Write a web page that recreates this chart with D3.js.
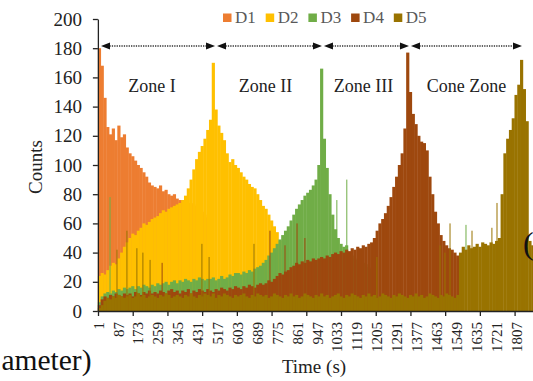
<!DOCTYPE html>
<html>
<head>
<meta charset="utf-8">
<script src="https://cdn.jsdelivr.net/npm/d3@7"></script>
<style>
  body { margin: 0; background: #fff; }
  svg { display: block; }
  svg text { font-family: "Liberation Serif", "Times New Roman", serif; }
</style>
</head>
<body>
<div id="chart"></div>
<script>
// ---- data (one value per 12 time steps) ----
const seriesNames = ["D1", "D2", "D3", "D4", "D5"];
const binSize = 12;

const countsD1 = [
  180, 168, 146, 126, 121, 125, 117, 127, 119, 121,
  112, 108, 106, 103, 100, 98, 95, 92, 88, 86,
  85, 84, 86, 82, 83, 80, 79, 80, 77, 76,
  76, 75, 74, 74, 73, 72, 70, 68, 66, 64
];
const countsD2 = [
  24, 26, 25, 28, 31, 33, 32, 36, 40, 44,
  47, 50, 53, 52, 55, 57, 60, 59, 61, 63,
  64, 65, 67, 69, 68, 70, 71, 72, 73, 74,
  76, 79, 84, 90, 97, 104, 109, 113, 118, 124,
  131, 170, 138, 127, 122, 117, 108, 102, 104, 100,
  98, 95, 92, 90, 87, 85, 84, 80, 76, 72,
  70, 66, 62, 58, 54, 48, 42, 36, 30, 26,
  24, 22, 21, 20, 18, 17, 16, 15, 14, 12
];
const countsD3 = [
  6, 10, 12, 13, 12, 14, 13, 15, 14, 16,
  15, 16, 17, 15, 17, 16, 18, 17, 16, 18,
  17, 19, 18, 19, 20, 18, 20, 21, 19, 21,
  20, 22, 21, 20, 22, 21, 23, 22, 21, 22,
  22, 23, 21, 22, 24, 22, 23, 25, 24, 26,
  26, 25, 27, 26, 28, 27, 29, 30, 31, 33,
  35, 38, 40, 43, 46, 49, 52, 55, 58, 62,
  66, 70, 73, 76, 79, 81, 83, 86, 90, 100,
  166, 118, 98, 80, 66, 56, 50, 46, 44, 45,
  40, 38, 36, 35, 34, 33, 32, 30, 29, 28
];
const countsD4 = [
  4, 8, 10, 9, 11, 10, 12, 11, 10, 12,
  11, 12, 10, 13, 12, 11, 13, 12, 14, 12,
  13, 12, 14, 13, 12, 14, 15, 13, 14, 12,
  14, 13, 15, 12, 14, 13, 15, 14, 13, 15,
  14, 13, 15, 14, 16, 15, 14, 16, 15, 17,
  16, 15, 17, 16, 18, 17, 16, 18, 19, 18,
  19, 21, 20, 22, 24, 26, 25, 27, 28, 30,
  31, 33, 32, 34, 33, 35, 34, 36, 35, 36,
  37, 36, 38, 37, 39, 40, 39, 41, 40, 42,
  41, 43, 42, 44, 43, 45, 44, 46, 47, 50,
  55, 60, 63, 67, 72, 78, 85, 92, 100, 108,
  125, 177, 150, 135, 128, 120, 116, 115, 110, 92,
  80, 68, 60, 52, 48, 45, 43, 42, 40, 38, 36
];
const countsD5 = [
  2, 4, 7, 9, 8, 10, 9, 11, 10, 9,
  10, 11, 9, 10, 12, 10, 11, 9, 10, 11,
  10, 9, 11, 10, 12, 11, 9, 10, 11, 10,
  9, 11, 10, 12, 10, 9, 11, 10, 12, 11,
  10, 12, 9, 11, 10, 12, 11, 10, 9, 11,
  10, 11, 12, 10, 9, 11, 10, 12, 11, 10,
  11, 9, 10, 12, 11, 10, 9, 11, 10, 12,
  10, 11, 9, 10, 12, 11, 10, 9, 11, 10,
  12, 10, 11, 9, 10, 11, 12, 10, 9, 11,
  10, 12, 11, 10, 9, 11, 10, 12, 10, 11,
  9, 10, 12, 11, 10, 9, 11, 10, 12, 11,
  10, 9, 11, 10, 12, 10, 11, 9, 10, 12,
  11, 10, 9, 11, 10, 12, 11, 10, 9, 11,
  40, 44, 42, 45, 43, 44, 46, 44, 47, 46,
  45, 47, 46, 48, 50, 80, 108, 118, 124, 132,
  148, 155, 172, 152, 130, 48, 45, 46, 44, 45
];

// single-step spikes [time step, count]
const spikesD3 = [[53, 78], [1033, 76], [1076, 90], [1591, 59]];
const spikesD4 = [[278, 33], [744, 55], [809, 45], [861, 60], [895, 50]];
const spikesD5 = [[83, 42], [126, 55], [169, 43], [195, 40], [226, 35], [450, 46], [481, 37],
  [675, 46], [1206, 37], [1479, 45], [1500, 40], [1522, 60], [1617, 55], [1703, 57], [1725, 74]];

const xTickLabels = [1, 87, 173, 259, 345, 431, 517, 603, 689, 775, 861, 947,
  1033, 1119, 1205, 1291, 1377, 1463, 1549, 1635, 1721, 1807];
const yTickValues = [0, 20, 40, 60, 80, 100, 120, 140, 160, 180, 200];

const zoneNames = ["Zone I", "Zone II", "Zone III", "Cone Zone"];
const zoneBounds = [14, 511, 973, 1349, 1833];

// ---- layout ----
const width = 533, height = 381;
const serif = "Liberation Serif, Times New Roman, serif";

const svg = d3.select("#chart").append("svg")
  .attr("width", width)
  .attr("height", height);

const x = d3.scaleLinear().domain([1, 1900]).range([98, 537.5]);
const y = d3.scaleLinear().domain([0, 200]).range([311, 19]);
const color = d3.scaleOrdinal().domain(seriesNames)
  .range(["#ED7D31", "#FFC000", "#70AD47", "#9E480E", "#997300"]);

const series = [
  { name: "D1", bins: countsD1, spikes: [] },
  { name: "D2", bins: countsD2, spikes: [] },
  { name: "D3", bins: countsD3, spikes: spikesD3 },
  { name: "D4", bins: countsD4, spikes: spikesD4 },
  { name: "D5", bins: countsD5, spikes: spikesD5 }
];

const barW = x(1 + binSize) - x(1);

// bars, D1 at the back, D5 in front
series.forEach(s => {
  const g = svg.append("g").attr("fill", color(s.name));
  g.selectAll(".bin")
    .data(s.bins)
    .enter().append("rect")
    .attr("class", "bin")
    .attr("x", (d, i) => x(0.5 + i * binSize))
    .attr("width", barW + 0.4)
    .attr("y", d => y(d))
    .attr("height", d => y(0) - y(d));
  g.selectAll(".spike")
    .data(s.spikes)
    .enter().append("rect")
    .attr("class", "spike")
    .attr("x", d => x(d[0]) - 0.5)
    .attr("width", 1)
    .attr("y", d => y(d[1]))
    .attr("height", d => y(0) - y(d[1]));
});

// Y axis
svg.append("g")
  .attr("transform", `translate(${x(0.5)},0)`)
  .call(d3.axisLeft(y).tickValues(yTickValues).tickSize(5).tickSizeOuter(0).tickPadding(11))
  .call(g => g.selectAll("line, path").attr("stroke", "#222").attr("stroke-width", 1.3))
  .call(g => g.selectAll("text")
    .style("font-family", serif)
    .attr("font-size", 19)
    .attr("fill", "#222"));

// X axis: tick marks every 150 steps
svg.append("g")
  .attr("transform", `translate(0,${y(0)})`)
  .call(d3.axisBottom(x).tickValues(d3.range(1, 1900, 150)).tickSize(5).tickSizeOuter(0).tickFormat(""))
  .call(g => g.selectAll("line, path").attr("stroke", "#222").attr("stroke-width", 1.3));

// X axis labels every 86 steps, rotated
svg.append("g")
  .attr("transform", `translate(0,${y(0)})`)
  .call(d3.axisBottom(x).tickValues(xTickLabels).tickSize(0).tickFormat(d3.format("d")))
  .call(g => g.select(".domain").remove())
  .call(g => g.selectAll("text")
    .style("font-family", serif)
    .attr("font-size", 15)
    .attr("fill", "#222")
    .attr("x", -11)
    .attr("y", 0)
    .attr("dy", "0.34em")
    .attr("text-anchor", "end")
    .attr("transform", "rotate(-90)"));

// axis titles
svg.append("text")
  .attr("transform", "translate(42,167) rotate(-90)")
  .attr("text-anchor", "middle")
  .attr("font-size", 19)
  .attr("fill", "#222")
  .text("Counts");

svg.append("text")
  .attr("x", 314)
  .attr("y", 373)
  .attr("text-anchor", "middle")
  .attr("font-size", 19)
  .attr("fill", "#222")
  .text("Time (s)");

// legend
const legend = svg.append("g").attr("transform", "translate(223,0)");
const item = legend.selectAll("g")
  .data(seriesNames)
  .enter().append("g")
  .attr("transform", (d, i) => `translate(${i * 42.7},0)`);
item.append("rect")
  .attr("x", 0).attr("y", 13.5)
  .attr("width", 8.5).attr("height", 8.5)
  .attr("fill", d => color(d));
item.append("text")
  .attr("x", 12).attr("y", 23)
  .attr("font-size", 17)
  .attr("fill", "#595959")
  .text(d => d);

// zone arrows
const arrowY = 46;
const zones = zoneNames.map((name, i) => ({
  name,
  x0: x(zoneBounds[i]) + (i === 0 ? 0 : 1),
  x1: x(zoneBounds[i + 1]) - (i === zoneNames.length - 1 ? 0 : 1)
}));
const za = svg.append("g").selectAll("g").data(zones).enter().append("g");
za.append("line")
  .attr("x1", d => d.x0 + 6).attr("x2", d => d.x1 - 6)
  .attr("y1", arrowY).attr("y2", arrowY)
  .attr("stroke", "#333").attr("stroke-width", 1.4)
  .attr("stroke-dasharray", "1.3,1.1");
za.append("path")
  .attr("fill", "#111")
  .attr("d", d => `M${d.x0},${arrowY}L${d.x0 + 9},${arrowY - 3.6}L${d.x0 + 9},${arrowY + 3.6}Z` +
    `M${d.x1},${arrowY}L${d.x1 - 9},${arrowY - 3.6}L${d.x1 - 9},${arrowY + 3.6}Z`);

const labelShift = [-6, -4, -3, 0];
za.append("text")
  .attr("x", (d, i) => (d.x0 + d.x1) / 2 + labelShift[i])
  .attr("y", 92)
  .attr("text-anchor", "middle")
  .attr("font-size", 18)
  .attr("fill", "#222")
  .text(d => d.name);

// pieces of neighbouring labels that show at the edges of the crop
svg.append("text")
  .attr("x", 91.5).attr("y", 370)
  .attr("text-anchor", "end")
  .attr("font-size", 29.5)
  .attr("fill", "#111")
  .text("ameter)");
svg.append("text")
  .attr("x", 523).attr("y", 254)
  .attr("font-size", 32)
  .attr("fill", "#111")
  .text("(");
</script>
</body>
</html>
